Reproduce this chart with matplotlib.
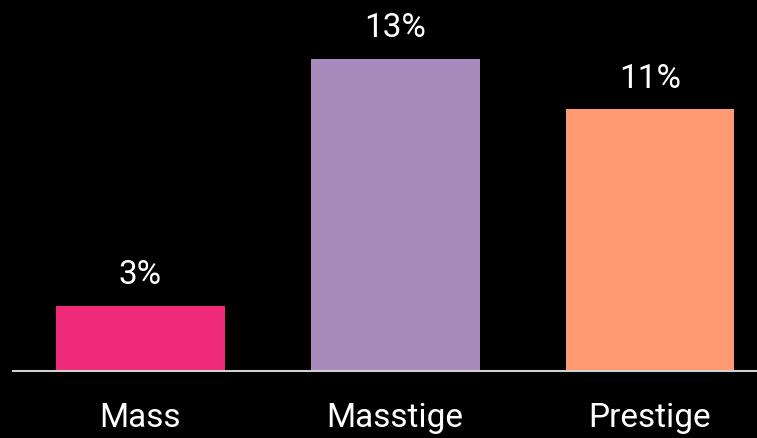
import matplotlib
matplotlib.use("Agg")
import matplotlib.pyplot as plt

categories = ["Mass", "Masstige", "Prestige"]
values = [2.7, 13.0, 10.9]
labels = ["3%", "13%", "11%"]
colors = ["#F02A7B", "#A98ABC", "#FF9A72"]

plt.rcParams['font.family'] = ['Roboto', 'DejaVu Sans']

fig = plt.figure(figsize=(7.57, 4.38), dpi=100, facecolor="black")
ax = fig.add_axes([13 / 757, 67 / 438, 744 / 757, 371 / 438], facecolor="black")

x = range(len(categories))
ax.bar(x, values, width=0.663, color=colors)
for i, v in enumerate(values):
  ax.text(i, v + 0.62, labels[i], ha="center", va="bottom", color="white", fontsize=24)

ax.set_xlim(-0.5, 2.42)
ax.set_ylim(0, 13.0 * 371 / 312)
ax.set_xticks(list(x))
ax.set_xticklabels(categories, color="white", fontsize=24)
ax.tick_params(axis="x", length=0, pad=22)
ax.set_yticks([])
for s in ["top", "right", "left"]:
  ax.spines[s].set_visible(False)
ax.spines["bottom"].set_color("#d0d0d0")
ax.spines["bottom"].set_linewidth(1.5)

fig.savefig("out.png", dpi=100, facecolor="black")
